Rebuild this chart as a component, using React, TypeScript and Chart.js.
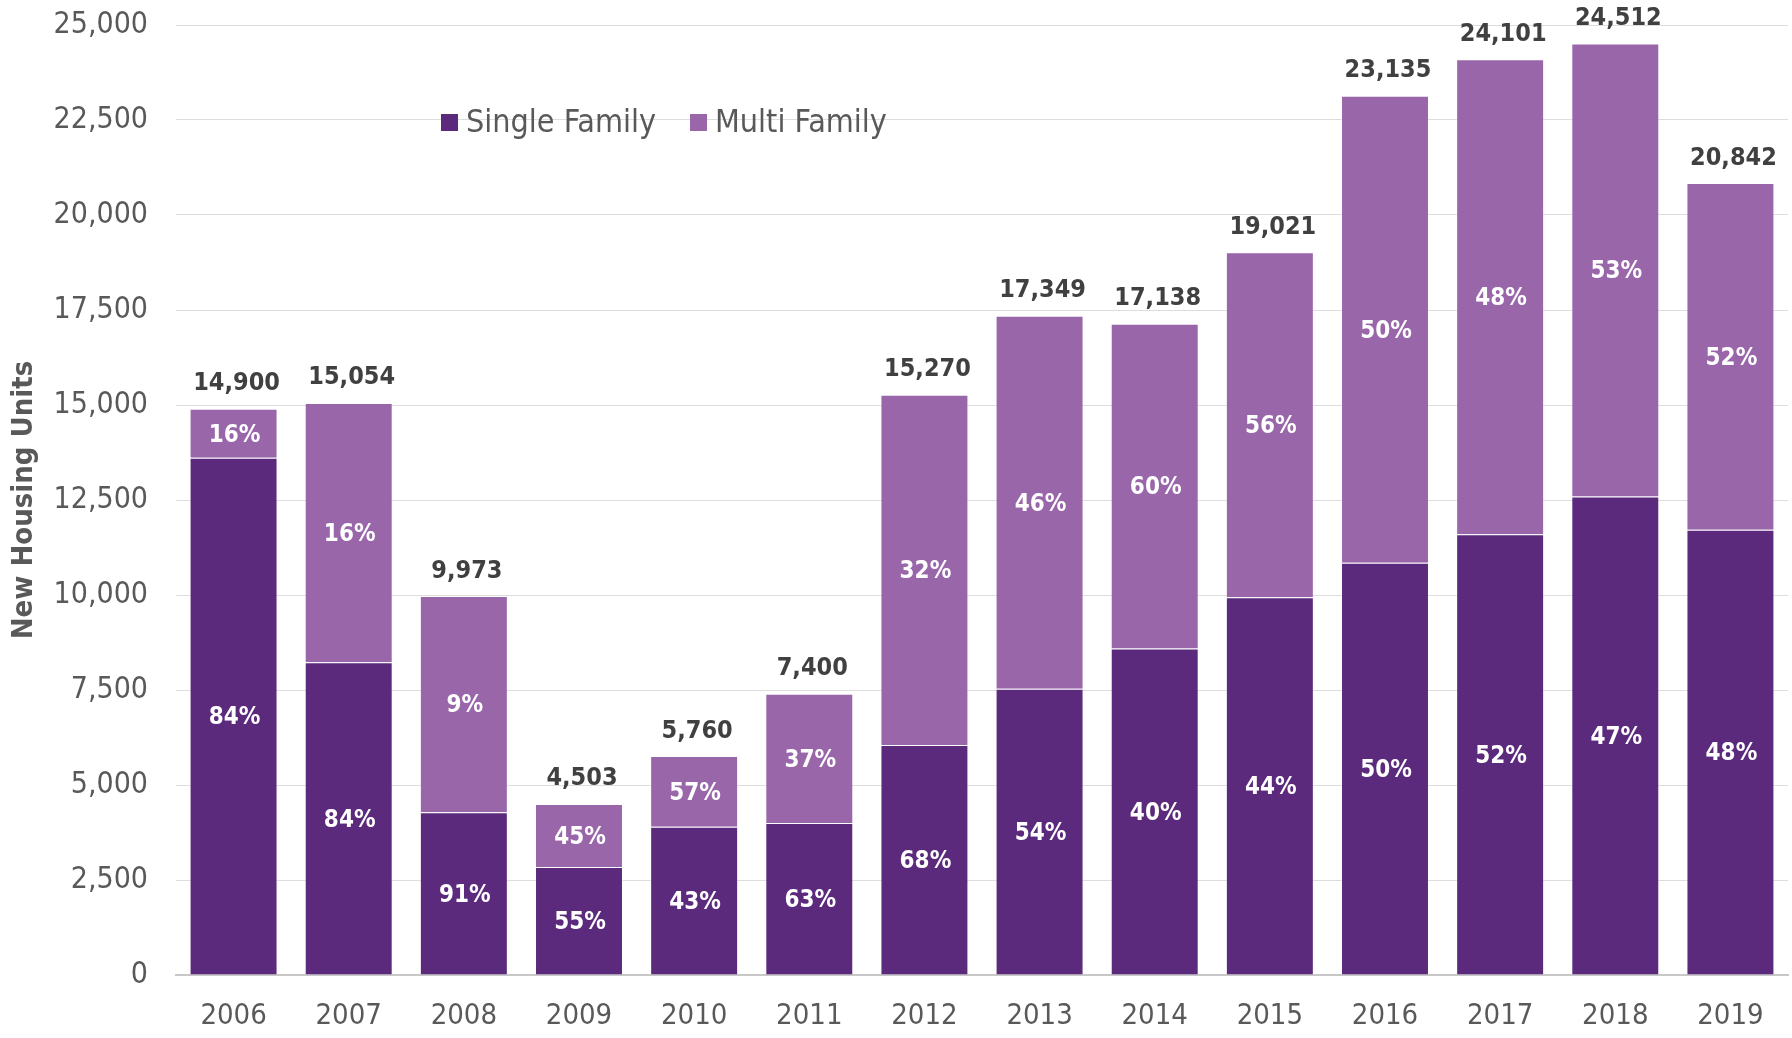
import React, { useEffect, useRef } from 'react';
import { Chart, registerables } from 'chart.js';

Chart.register(...registerables);

const FONT = "'DejaVu Sans Condensed', 'DejaVu Sans', sans-serif";

const years = ['2006', '2007', '2008', '2009', '2010', '2011', '2012', '2013', '2014', '2015', '2016', '2017', '2018', '2019'];
const singleFamily = [13610, 8230, 4280, 2840, 3900, 4000, 6050, 7530, 8590, 9940, 10850, 11600, 12590, 11720];
const multiFamily = [1290, 6824, 5693, 1663, 1860, 3400, 9220, 9819, 8548, 9081, 12285, 12501, 11922, 9122];
const totals = [14900, 15054, 9973, 4503, 5760, 7400, 15270, 17349, 17138, 19021, 23135, 24101, 24512, 20842];
const singlePct = [84, 84, 91, 55, 43, 63, 68, 54, 40, 44, 50, 52, 47, 48];
const multiPct = [16, 16, 9, 45, 57, 37, 32, 46, 60, 56, 50, 48, 53, 52];
const seriesNames = ['Single Family', 'Multi Family'];
const seriesColors = ['#5C2A7C', '#9966AA'];

const labelsPlugin = {
  id: 'customLabels',
  afterDatasetsDraw(chart: any) {
    const ctx = chart.ctx;
    ctx.save();
    ctx.textAlign = 'center';
    ctx.textBaseline = 'middle';
    ctx.font = `bold 24px ${FONT}`;
    ctx.fillStyle = '#FFFFFF';
    [singlePct, multiPct].forEach((pcts, di) => {
      const meta = chart.getDatasetMeta(di);
      meta.data.forEach((bar: any, i: number) => {
        const p = bar.getProps(['x', 'y', 'base'], true);
        ctx.fillText(pcts[i] + '%', p.x + 1, (p.y + p.base) / 2 + 2);
      });
    });
    ctx.font = `bold 25px ${FONT}`;
    ctx.fillStyle = '#404040';
    const topMeta = chart.getDatasetMeta(1);
    topMeta.data.forEach((bar: any, i: number) => {
      const p = bar.getProps(['x', 'y'], true);
      ctx.fillText(totals[i].toLocaleString('en-US'), p.x + 3, p.y - 25);
    });
    // legend
    ctx.font = `32px ${FONT}`;
    ctx.textAlign = 'left';
    let lx = 441;
    const ly = 122.5;
    seriesNames.forEach((name, i) => {
      ctx.fillStyle = seriesColors[i];
      ctx.fillRect(lx, ly - 8.5, 17, 17);
      ctx.fillStyle = '#595959';
      ctx.fillText(name, lx + 25, ly + 1);
      lx += 25 + ctx.measureText(name).width + 34;
    });
    ctx.restore();
  },
};

export default function App() {
  const canvasRef = useRef<HTMLCanvasElement | null>(null);

  useEffect(() => {
    if (!canvasRef.current) return;
    const chart = new Chart(canvasRef.current, {
      type: 'bar',
      data: {
        labels: years,
        datasets: [
          {
            label: seriesNames[0],
            data: singleFamily,
            backgroundColor: seriesColors[0],
            borderColor: 'rgba(255,255,255,0.25)',
            borderWidth: 1,
            barPercentage: 0.764,
            categoryPercentage: 1,
          },
          {
            label: seriesNames[1],
            data: multiFamily,
            backgroundColor: seriesColors[1],
            borderColor: 'rgba(255,255,255,0.25)',
            borderWidth: 1,
            barPercentage: 0.764,
            categoryPercentage: 1,
          },
        ],
      },
      options: {
        animation: false,
        responsive: true,
        maintainAspectRatio: false,
        layout: { padding: { top: 25, right: 4, left: 0, bottom: 0 } },
        plugins: {
          legend: { display: false },
          tooltip: { enabled: false },
        },
        scales: {
          x: {
            stacked: true,
            grid: { display: false, drawTicks: false },
            border: { display: true, color: '#C8C8C8', width: 2 },
            ticks: {
              color: '#595959',
              font: { family: FONT, size: 29 },
              padding: 24,
            },
            afterFit: (scale: any) => {
              scale.height = 63;
            },
          },
          y: {
            stacked: true,
            min: 0,
            max: 25000,
            grid: { color: '#DDDDDD', lineWidth: 1, drawTicks: false },
            border: { display: false },
            ticks: {
              stepSize: 2500,
              color: '#595959',
              font: { family: FONT, size: 30 },
              padding: 28,
              callback: (v: any) => Number(v).toLocaleString('en-US'),
            },
            title: {
              display: true,
              text: 'New Housing Units',
              color: '#595959',
              font: { family: FONT, size: 29, weight: 'bold' },
              padding: { top: 7, bottom: 0 },
            },
            afterFit: (scale: any) => {
              scale.width = 176;
              scale.paddingTop = 0;
              scale.paddingBottom = 0;
            },
          },
        },
      },
      plugins: [labelsPlugin],
    });
    return () => chart.destroy();
  }, []);

  return (
    <div style={{ position: 'absolute', left: 0, top: 0, width: 1792, height: 1038, background: '#FFFFFF' }}>
      <canvas ref={canvasRef} />
    </div>
  );
}
